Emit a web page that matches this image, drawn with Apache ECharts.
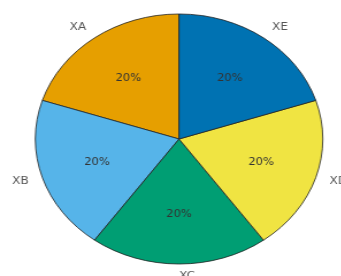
<!DOCTYPE html>
<html>
<head>
<meta charset="utf-8">
<script src="https://cdn.jsdelivr.net/npm/echarts@6/dist/echarts.min.js"></script>
<style>
  html, body { margin: 0; padding: 0; background: #fff; overflow: hidden; }
  /* the reference pie is an ellipse, so the chart is stretched horizontally */
  #chart { width: 297px; height: 276px; transform: scaleX(1.15); transform-origin: 0 0; }
</style>
</head>
<body>
<div id="chart"></div>
<script>
  var categories = ['XA', 'XB', 'XC', 'XD', 'XE'];
  var values = [20, 20, 20, 20, 20];
  var colors = ['#E69F00', '#56B4E9', '#009E73', '#F0E442', '#0072B2'];

  var pieData = categories.map(function (name, i) {
    return { name: name, value: values[i], itemStyle: { color: colors[i] } };
  });

  var chart = echarts.init(document.getElementById('chart'), null, { renderer: 'canvas' });

  chart.setOption({
    animation: false,
    series: [
      {
        // the visible pie, with the category labels outside
        type: 'pie',
        center: [155.7, 139],
        radius: [0, 125],
        startAngle: 90,
        clockwise: false,
        avoidLabelOverlap: false,
        silent: true,
        data: pieData,
        itemStyle: { borderColor: '#222', borderWidth: 0.8 },
        label: {
          show: true,
          position: 'outside',
          formatter: '{b}',
          color: '#555',
          fontFamily: 'DejaVu Sans',
          fontSize: 10.5,
          distanceToLabelLine: 0
        },
        labelLine: { show: false, length: 12.5, length2: 0 },
        emphasis: { disabled: true }
      },
      {
        // invisible pie used only to put the percentages at ~0.6 r
        // (echarts pushes inside labels 3px outward, hence 144 not 150)
        type: 'pie',
        center: [155.7, 139],
        radius: [0, 144],
        startAngle: 90,
        clockwise: false,
        silent: true,
        data: categories.map(function (name, i) {
          return { name: name, value: values[i] };
        }),
        itemStyle: { color: 'rgba(0,0,0,0)', borderWidth: 0 },
        label: {
          show: true,
          position: 'inside',
          formatter: function (p) { return Math.round(p.percent) + '%'; },
          color: '#333',
          fontFamily: 'DejaVu Sans',
          fontSize: 10
        },
        labelLine: { show: false },
        emphasis: { disabled: true }
      }
    ]
  });
</script>
</body>
</html>
